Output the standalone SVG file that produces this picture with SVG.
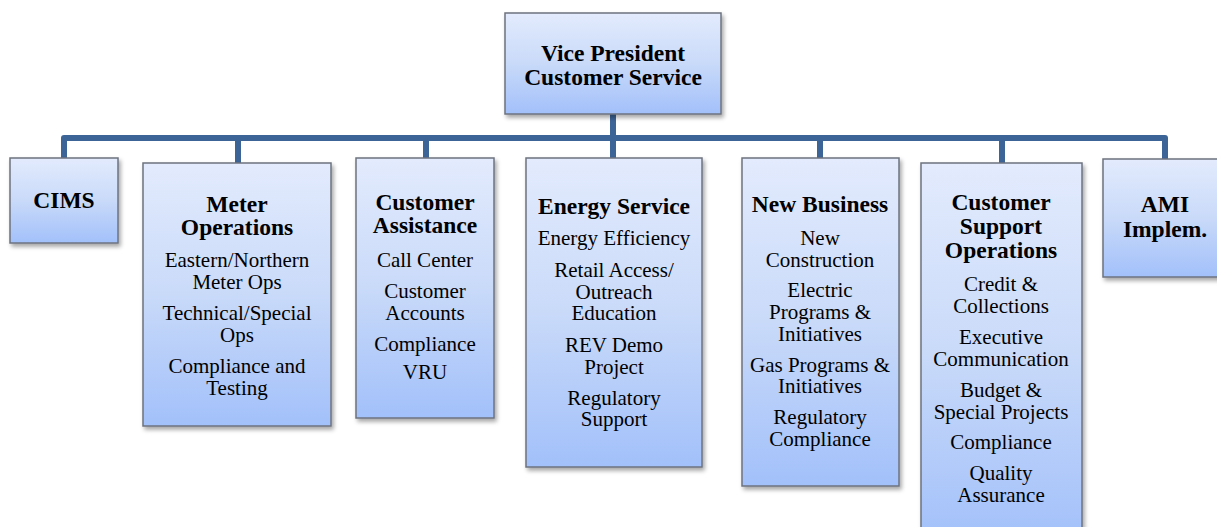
<svg xmlns="http://www.w3.org/2000/svg" width="1217" height="527" viewBox="0 0 1217 527">
<defs>
<linearGradient id="g" x1="0" y1="0" x2="0" y2="1">
<stop offset="0" stop-color="#e3ebfd"/>
<stop offset="0.5" stop-color="#c9daf9"/>
<stop offset="1" stop-color="#a2c0fa"/>
</linearGradient>
<filter id="sh" x="-10%" y="-10%" width="125%" height="125%">
<feDropShadow dx="2" dy="3" stdDeviation="2" flood-color="#000" flood-opacity="0.35"/>
</filter>
</defs>
<style>
.box{fill:url(#g);stroke:#6d737f;stroke-width:1.5;filter:url(#sh)}
text{font-family:"Liberation Serif","Times New Roman",serif;fill:#000;text-anchor:middle}
.h{font-size:23.5px;font-weight:bold}
.t{font-size:21px}
.c{fill:none;stroke:#3d6496;stroke-width:6;stroke-linejoin:round}
</style>
<rect width="1217" height="527" fill="#fff"/>
<g id="connectors">
<path class="c" d="M64 158 V138 H1165 V159"/>
<path class="c" d="M613 114 V158"/>
<path class="c" d="M238 138 V163"/>
<path class="c" d="M426 138 V158"/>
<path class="c" d="M820 138 V158"/>
<path class="c" d="M1002 138 V163"/>
</g>
<g id="vp">
<rect class="box" x="505" y="13" width="216" height="101"/>
<text class="h" x="613" y="61">Vice President</text>
<text class="h" x="613" y="85">Customer Service</text>
</g>
<g id="cims">
<rect class="box" x="10" y="158" width="108" height="85"/>
<text class="h" x="64" y="208">CIMS</text>
</g>
<g id="meter">
<rect class="box" x="143" y="163" width="188" height="263"/>
<text class="h" x="237" y="212">Meter</text>
<text class="h" x="237" y="235">Operations</text>
<text class="t" x="237" y="267">Eastern/Northern</text>
<text class="t" x="237" y="289">Meter Ops</text>
<text class="t" x="237" y="320">Technical/Special</text>
<text class="t" x="237" y="342">Ops</text>
<text class="t" x="237" y="373">Compliance and</text>
<text class="t" x="237" y="395">Testing</text>
</g>
<g id="assist">
<rect class="box" x="356" y="158" width="138" height="260"/>
<text class="h" x="425" y="210">Customer</text>
<text class="h" x="425" y="233">Assistance</text>
<text class="t" x="425" y="267">Call Center</text>
<text class="t" x="425" y="298">Customer</text>
<text class="t" x="425" y="320">Accounts</text>
<text class="t" x="425" y="351">Compliance</text>
<text class="t" x="425" y="379">VRU</text>
</g>
<g id="energy">
<rect class="box" x="526" y="158" width="176" height="309"/>
<text class="h" x="614" y="214">Energy Service</text>
<text class="t" x="614" y="245">Energy Efficiency</text>
<text class="t" x="614" y="277">Retail Access/</text>
<text class="t" x="614" y="299">Outreach</text>
<text class="t" x="614" y="320">Education</text>
<text class="t" x="614" y="352">REV Demo</text>
<text class="t" x="614" y="374">Project</text>
<text class="t" x="614" y="405">Regulatory</text>
<text class="t" x="614" y="426">Support</text>
</g>
<g id="newbiz">
<rect class="box" x="742" y="158" width="157" height="328"/>
<text class="h" x="820" y="212">New Business</text>
<text class="t" x="820" y="245">New</text>
<text class="t" x="820" y="267">Construction</text>
<text class="t" x="820" y="297">Electric</text>
<text class="t" x="820" y="319">Programs &amp;</text>
<text class="t" x="820" y="341">Initiatives</text>
<text class="t" x="820" y="372">Gas Programs &amp;</text>
<text class="t" x="820" y="393">Initiatives</text>
<text class="t" x="820" y="424">Regulatory</text>
<text class="t" x="820" y="446">Compliance</text>
</g>
<g id="support">
<rect class="box" x="921" y="163" width="161" height="380"/>
<text class="h" x="1001" y="210">Customer</text>
<text class="h" x="1001" y="234">Support</text>
<text class="h" x="1001" y="258">Operations</text>
<text class="t" x="1001" y="291">Credit &amp;</text>
<text class="t" x="1001" y="313">Collections</text>
<text class="t" x="1001" y="344">Executive</text>
<text class="t" x="1001" y="366">Communication</text>
<text class="t" x="1001" y="397">Budget &amp;</text>
<text class="t" x="1001" y="419">Special Projects</text>
<text class="t" x="1001" y="449">Compliance</text>
<text class="t" x="1001" y="480">Quality</text>
<text class="t" x="1001" y="502">Assurance</text>
</g>
<g id="ami">
<rect class="box" x="1103" y="159" width="125" height="118"/>
<text class="h" x="1165" y="212">AMI</text>
<text class="h" x="1165" y="237">Implem.</text>
</g>
</svg>
